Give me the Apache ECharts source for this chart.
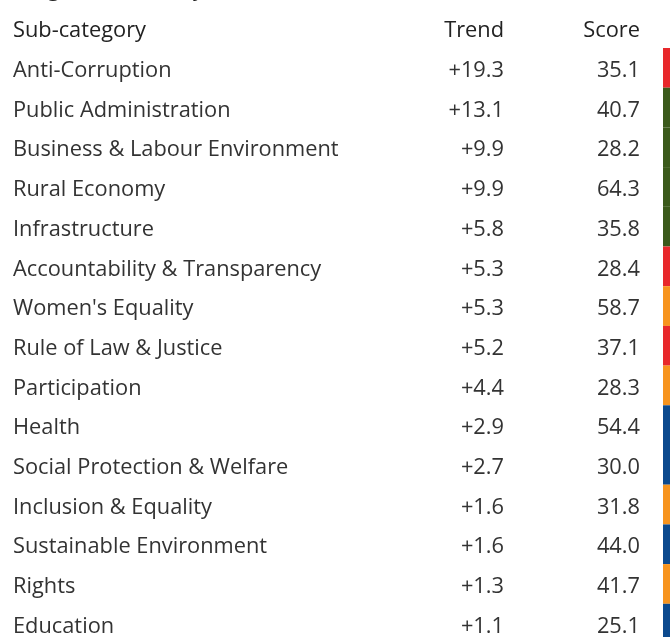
<!DOCTYPE html>
<html>
<head>
<meta charset="utf-8">
<script src="https://cdn.jsdelivr.net/npm/echarts@6/dist/echarts.min.js"></script>
<style>
  html, body { margin: 0; padding: 0; background: #fff; overflow: hidden; }
  #main { width: 670px; height: 680px; }
</style>
</head>
<body>
<div id="main"></div>
<script>
// rows, top to bottom
var subCategories = [
  'Anti-Corruption', 'Public Administration', 'Business & Labour Environment',
  'Rural Economy', 'Infrastructure', 'Accountability & Transparency',
  "Women's Equality", 'Rule of Law & Justice', 'Participation', 'Health',
  'Social Protection & Welfare', 'Inclusion & Equality',
  'Sustainable Environment', 'Rights', 'Education'
];
var trend = [19.3, 13.1, 9.9, 9.9, 5.8, 5.3, 5.3, 5.2, 4.4, 2.9, 2.7, 1.6, 1.6, 1.3, 1.1];
var score = [35.1, 40.7, 28.2, 64.3, 35.8, 28.4, 58.7, 37.1, 28.3, 54.4, 30.0, 31.8, 44.0, 41.7, 25.1];
// colour strip on the right edge
var rowColors = [
  '#e8282b', '#3b5a1b', '#3b5a1b', '#3b5a1b', '#3b5a1b', '#e8282b', '#f7941e', '#e8282b',
  '#f7941e', '#0c4a8e', '#0c4a8e', '#f7941e', '#0c4a8e', '#f7941e', '#0c4a8e'
];
var headers = ['Sub-category', 'Trend', 'Score'];

var FONT = '"Open Sans", "Noto Sans", sans-serif';
var FS = 21.8;
var TXT = '#333';
var rowH = 39.7;
var tableTop = 48;
var textTop = 51;   // text sits a bit below the band centre
var tableH = rowH * subCategories.length;

function catAxis(grid, pos, fmt) {
  return {
    type: 'category', gridIndex: grid, position: pos, inverse: true,
    data: subCategories,
    axisLine: { show: false }, axisTick: { show: false }, splitLine: { show: false },
    axisLabel: {
      inside: true, margin: 0, interval: 0,
      fontSize: FS, color: TXT, fontFamily: FONT,
      formatter: fmt
    }
  };
}
function hiddenX(grid) {
  return { type: 'value', gridIndex: grid, min: 0, max: 1, show: false };
}

var chart = echarts.init(document.getElementById('main'));
chart.setOption({
  backgroundColor: '#fff',
  animation: false,
  grid: [
    { left: 13, width: 400, top: textTop, height: tableH },   // names
    { left: 420, right: 166, top: textTop, height: tableH },  // trend
    { left: 520, right: 30, top: textTop, height: tableH },   // score
    { left: 663, right: 0, top: tableTop, height: tableH }    // colour strip
  ],
  xAxis: [hiddenX(0), hiddenX(1), hiddenX(2), hiddenX(3)],
  yAxis: [
    catAxis(0, 'left', function (v) { return v; }),
    catAxis(1, 'right', function (v, i) { return '+' + trend[i].toFixed(1); }),
    catAxis(2, 'right', function (v, i) { return score[i].toFixed(1); }),
    Object.assign(catAxis(3, 'right'), { axisLabel: { show: false } })
  ],
  graphic: [
    { type: 'text', left: 13, top: -20, style: { text: 'Progress Summary (Trend, Score)', font: '600 21px ' + FONT, fill: '#222' } },
    { type: 'text', left: 13, top: 20, style: { text: headers[0], font: FS + 'px ' + FONT, fill: '#222' } },
    { type: 'text', right: 166, top: 20, style: { text: headers[1], font: FS + 'px ' + FONT, fill: '#222', align: 'right' } },
    { type: 'text', right: 30, top: 20, style: { text: headers[2], font: FS + 'px ' + FONT, fill: '#222', align: 'right' } }
  ],
  series: [{
    type: 'bar', xAxisIndex: 3, yAxisIndex: 3,
    barWidth: '100%', barCategoryGap: 0,
    silent: true,
    data: subCategories.map(function (c, i) {
      return { value: 1, itemStyle: { color: rowColors[i] } };
    })
  }]
});
</script>
</body>
</html>
